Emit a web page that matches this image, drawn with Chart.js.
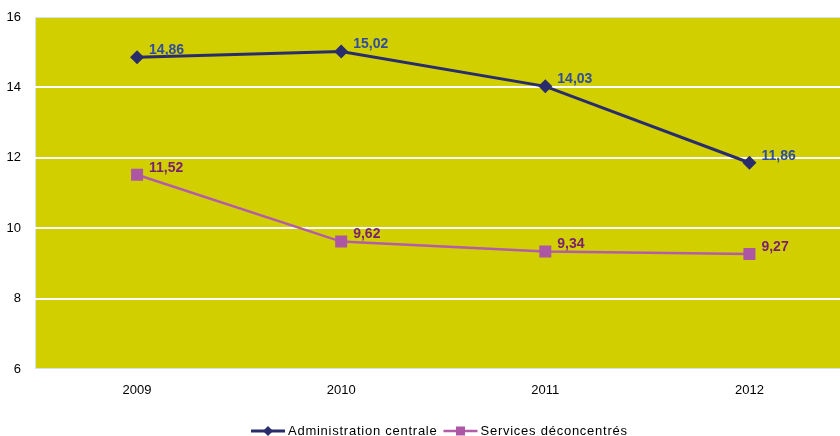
<!DOCTYPE html>
<html>
<head>
<meta charset="utf-8">
<script src="https://cdn.jsdelivr.net/npm/chart.js@4"></script>
<style>
  html, body { margin: 0; padding: 0; background: #ffffff; overflow: hidden; }
  #wrap { position: relative; width: 860px; height: 436px; }
  canvas { display: block; }
</style>
</head>
<body>
<div id="wrap"><canvas id="chart" width="860" height="436"></canvas></div>
<script>
// Années et taux par type de service
const years = ['2009', '2010', '2011', '2012'];
const adminCentrale = [14.86, 15.02, 14.03, 11.86];
const servicesDeconcentres = [11.52, 9.62, 9.34, 9.27];
const yTicks = [6, 8, 10, 12, 14, 16];

const fmt = v => v.toFixed(2).replace('.', ',');

// Fond de la zone de traçage
const plotBackground = {
  id: 'plotBackground',
  beforeDraw(chart) {
    const { ctx, chartArea: a } = chart;
    ctx.save();
    ctx.fillStyle = '#d1cf00';
    ctx.fillRect(a.left, a.top, a.right - a.left, a.bottom - a.top);
    ctx.strokeStyle = '#d3e3ea';
    ctx.lineWidth = 1;
    ctx.strokeRect(a.left + 0.5, a.top + 0.5, a.right - a.left - 1, a.bottom - a.top - 1);
    ctx.restore();
  }
};

// Étiquettes de valeurs à droite des points
const valueLabels = {
  id: 'valueLabels',
  afterDatasetsDraw(chart) {
    const { ctx } = chart;
    ctx.save();
    ctx.font = 'bold 14px "Liberation Sans", Arial, sans-serif';
    ctx.textBaseline = 'middle';
    ctx.textAlign = 'left';
    chart.data.datasets.forEach((ds, i) => {
      const meta = chart.getDatasetMeta(i);
      ctx.fillStyle = ds.labelColor;
      meta.data.forEach((pt, j) => {
        ctx.fillText(fmt(ds.data[j]), pt.x + 12, pt.y - 7);
      });
    });
    ctx.restore();
  }
};

// Légende en bas : trait avec marqueur, puis libellé
const bottomLegend = {
  id: 'bottomLegend',
  afterDraw(chart) {
    const { ctx } = chart;
    ctx.save();
    ctx.font = '13px "Liberation Sans", Arial, sans-serif';
    ctx.letterSpacing = '0.75px';
    ctx.textBaseline = 'middle';
    const lineLen = 34, gapText = 3, gapItem = 6;
    let x = 251;
    const y = 431;
    chart.data.datasets.forEach(ds => {
      ctx.strokeStyle = ds.borderColor;
      ctx.lineWidth = ds.borderWidth;
      ctx.beginPath();
      ctx.moveTo(x, y);
      ctx.lineTo(x + lineLen, y);
      ctx.stroke();
      const cx = x + lineLen / 2;
      ctx.fillStyle = ds.pointBackgroundColor;
      if (ds.pointStyle === 'rectRot') {
        ctx.beginPath();
        ctx.moveTo(cx, y - 5); ctx.lineTo(cx + 5, y); ctx.lineTo(cx, y + 5); ctx.lineTo(cx - 5, y);
        ctx.closePath(); ctx.fill();
      } else {
        ctx.fillRect(cx - 4.5, y - 4.5, 9, 9);
      }
      ctx.fillStyle = '#000000';
      ctx.fillText(ds.label, x + lineLen + gapText, y + 0.5);
      const w = ctx.measureText(ds.label).width;
      x += lineLen + gapText + w + gapItem;
    });
    ctx.restore();
  }
};

new Chart(document.getElementById('chart'), {
  type: 'line',
  data: {
    labels: years,
    datasets: [
      {
        label: 'Administration centrale',
        data: adminCentrale,
        borderColor: '#2a2d6c',
        backgroundColor: '#2a2d6c',
        pointBackgroundColor: '#2a2d6c',
        pointBorderColor: '#2a2d6c',
        borderWidth: 3,
        pointStyle: 'rectRot',
        pointRadius: 7,
        pointBorderWidth: 0,
        tension: 0,
        labelColor: '#2f4d9c'
      },
      {
        label: 'Services déconcentrés',
        data: servicesDeconcentres,
        borderColor: '#b35ca9',
        backgroundColor: '#b35ca9',
        pointBackgroundColor: '#ad57a4',
        pointBorderColor: '#ad57a4',
        borderWidth: 2.5,
        pointStyle: 'rect',
        pointRadius: 8.5,
        pointBorderWidth: 0,
        tension: 0,
        labelColor: '#7a1f70'
      }
    ]
  },
  options: {
    responsive: false,
    animation: false,
    devicePixelRatio: 1,
    layout: { padding: { top: 17, left: 0, right: 0, bottom: 0 } },
    plugins: {
      legend: { display: false },
      tooltip: { enabled: false }
    },
    scales: {
      x: {
        offset: true,
        grid: { display: false, drawTicks: false },
        border: { display: false },
        ticks: {
          color: '#000000',
          padding: 14,
          font: { family: '"Liberation Sans", Arial, sans-serif', size: 13 }
        },
        afterFit(scale) {
          scale.height = 67;
          scale.paddingLeft = 0;
          scale.paddingRight = 0;
        }
      },
      y: {
        min: 6,
        max: 16,
        afterBuildTicks(scale) { scale.ticks = yTicks.map(v => ({ value: v })); },
        grid: {
          drawTicks: false,
          lineWidth: 2,
          color: ctx => (ctx.tick && (ctx.tick.value === 6 || ctx.tick.value === 16)) ? 'rgba(0,0,0,0)' : '#ffffff'
        },
        border: { display: false },
        ticks: {
          color: '#000000',
          padding: 14,
          font: { family: '"Liberation Sans", Arial, sans-serif', size: 13 }
        },
        afterFit(scale) {
          scale.width = 35;
          scale.paddingTop = 0;
          scale.paddingBottom = 0;
        }
      }
    }
  },
  plugins: [plotBackground, valueLabels, bottomLegend]
});
</script>
</body>
</html>
